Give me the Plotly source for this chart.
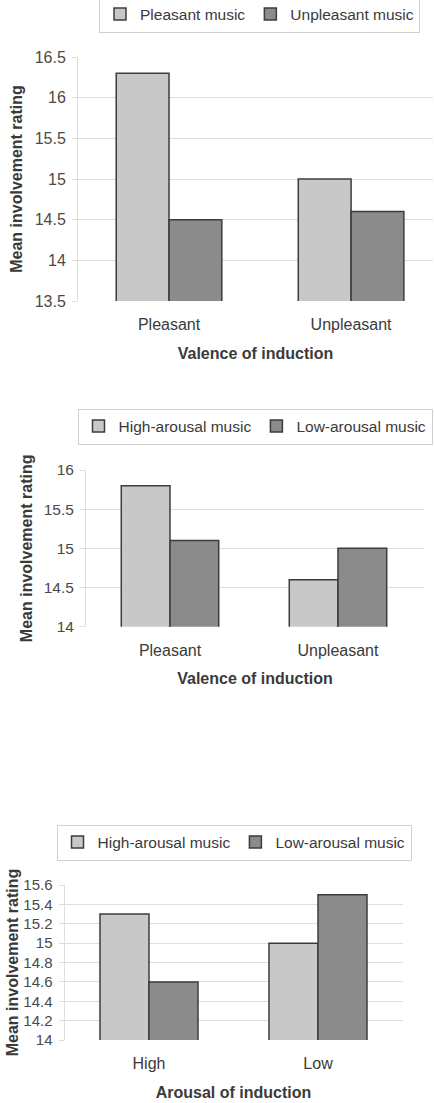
import plotly.graph_objects as go

# Chart 1
c1_categories = ["Pleasant", "Unpleasant"]
c1_series_names = ["Pleasant music", "Unpleasant music"]
c1_pleasant_music = [16.3, 15.0]
c1_unpleasant_music = [14.5, 14.6]

# Chart 2
c2_categories = ["Pleasant", "Unpleasant"]
c2_series_names = ["High-arousal music", "Low-arousal music"]
c2_high_arousal = [15.8, 14.6]
c2_low_arousal = [15.1, 15.0]

# Chart 3
c3_categories = ["High", "Low"]
c3_series_names = ["High-arousal music", "Low-arousal music"]
c3_high_arousal = [15.3, 15.0]
c3_low_arousal = [14.6, 15.5]

y_title = "Mean involvement rating"
x_titles = ["Valence of induction", "Valence of induction", "Arousal of induction"]

LIGHT = "#c8c8c8"
DARK = "#8b8b8b"
EDGE = "#3c3c3c"
TEXT = "#3a3a3a"
GRID = "#dedede"
FONT = "Liberation Sans, Arial, sans-serif"

fig = go.Figure()

charts = [
    (c1_categories, c1_series_names, [c1_pleasant_music, c1_unpleasant_music], "x", "y", "legend"),
    (c2_categories, c2_series_names, [c2_high_arousal, c2_low_arousal], "x2", "y2", "legend2"),
    (c3_categories, c3_series_names, [c3_high_arousal, c3_low_arousal], "x3", "y3", "legend3"),
]
for cats, names, vals, xa, ya, lg in charts:
    for name, v, col in zip(names, vals, [LIGHT, DARK]):
        fig.add_trace(go.Bar(
            x=cats, y=v, name=name, xaxis=xa, yaxis=ya, legend=lg,
            marker=dict(color=col, line=dict(color=EDGE, width=1.5)),
        ))

H = 1103.0
W = 434.0

def ydom(top, bottom):
    return [1 - bottom / H, 1 - top / H]

def xdom(left, right):
    return [left / W, right / W]

def xaxis_cfg(title):
    return dict(showgrid=False, ticks="", showline=False, zeroline=False, automargin=False,
                tickfont=dict(size=16, color=TEXT, family=FONT),
                ticklabelstandoff=12,
                title=dict(text=title, font=dict(size=16, color=TEXT, family=FONT, weight="bold"),
                           standoff=15))

def yaxis_cfg(tick_size, standoff):
    return dict(showgrid=True, gridcolor=GRID, gridwidth=1, zeroline=False, automargin=False,
                showline=True, linecolor=GRID, linewidth=1,
                ticks="outside", ticklen=5, tickcolor=GRID,
                tickfont=dict(size=tick_size, color="#4a4a4a", family=FONT),
                ticklabelstandoff=3,
                title=dict(text=y_title, font=dict(size=16, color=TEXT, family=FONT, weight="bold"),
                           standoff=standoff))

fig.update_layout(
    width=434, height=1103,
    margin=dict(l=0, r=0, t=0, b=0, autoexpand=False),
    paper_bgcolor="white", plot_bgcolor="white",
    barmode="group", bargap=0.42, bargroupgap=0,
    font=dict(family=FONT, color=TEXT),
    xaxis=dict(xaxis_cfg(x_titles[0]), domain=xdom(78, 433), range=[-0.5, 1.45], anchor="y"),
    yaxis=dict(yaxis_cfg(16, 8), domain=ydom(57, 301), range=[13.5, 16.5], dtick=0.5, anchor="x"),
    xaxis2=dict(xaxis_cfg(x_titles[1]), domain=xdom(86, 424), range=[-0.5, 1.512], anchor="y2"),
    yaxis2=dict(yaxis_cfg(15.5, 7), domain=ydom(470, 626.7), range=[14, 16], dtick=0.5, anchor="x2"),
    xaxis3=dict(xaxis_cfg(x_titles[2]), domain=xdom(64.5, 402.5), range=[-0.5, 1.5], anchor="y3"),
    yaxis3=dict(yaxis_cfg(15, 0), domain=ydom(885, 1040), range=[14, 15.6], dtick=0.2, anchor="x3"),
)

leg_common = dict(orientation="h", xanchor="center", yanchor="middle",
                  bordercolor="#cfcfcf", borderwidth=1, bgcolor="white",
                  font=dict(size=15.5, color=TEXT, family=FONT),
                  itemwidth=30, traceorder="normal")
fig.update_layout(
    legend=dict(leg_common, x=259.5 / W, y=1 - 14.5 / H),
    legend2=dict(leg_common, x=255 / W, y=1 - 426.5 / H),
    legend3=dict(leg_common, x=234 / W, y=1 - 842.5 / H),
)

fig.write_html("out.html")
